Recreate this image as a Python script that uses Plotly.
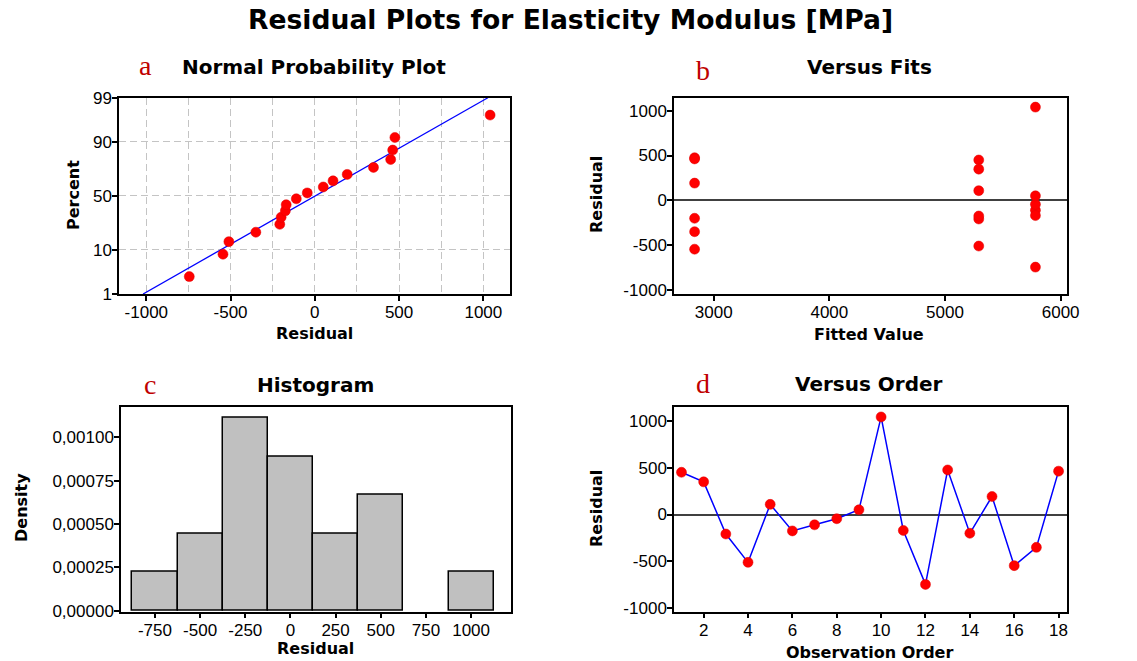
import numpy as np
import plotly.graph_objects as go
from statistics import NormalDist

# ---------------- data ----------------
observation_order = [1, 2, 3, 4, 5, 6, 7, 8, 9, 10, 11, 12, 13, 14, 15, 16, 17, 18]
residuals = [450, 348, -208, -510, 108, -175, -110, -45, 50, 1040,
             -170, -745, 475, -200, 192, -545, -350, 462]
fitted_values = [5292, 5292, 5292, 5292, 5292, 5292,
                 5782, 5782, 5782, 5782, 5782, 5782,
                 2835, 2835, 2835, 2835, 2835, 2835]

percent_ticks = [1, 10, 50, 90, 99]
npp_x_ticks = [-1000, -500, 0, 500, 1000]
fits_x_ticks = [3000, 4000, 5000, 6000]
res_y_ticks = [-1000, -500, 0, 500, 1000]
hist_x_ticks = [-750, -500, -250, 0, 250, 500, 750, 1000]
density_ticks = [0.0, 0.00025, 0.0005, 0.00075, 0.001]
density_labels = ["0,00000", "0,00025", "0,00050", "0,00075", "0,00100"]
order_ticks = [2, 4, 6, 8, 10, 12, 14, 16, 18]

# ---------------- derived ----------------
W, H = 1137, 661
nd = NormalDist()
res = np.array(residuals, dtype=float)
n = len(res)
sorted_res = np.sort(res)
probs = [(i - 0.5) / n for i in range(1, n + 1)]
zvals = [nd.inv_cdf(p) for p in probs]
mu = float(res.mean())
sd = float(res.std(ddof=1))
z_lo, z_hi = nd.inv_cdf(0.01), nd.inv_cdf(0.99)
line_z = [z_lo, z_hi]
line_x = [mu + sd * z for z in line_z]
pct_tickvals = [nd.inv_cdf(p / 100.0) for p in percent_ticks]


def lab(vals):
    return [str(v) for v in vals]  # plain hyphen minus, as in the reference


def px(x):
    return x / W


def py(y):
    return 1 - y / H


TICK_FONT = dict(family="Liberation Sans, Arial, sans-serif", size=17, color="black")
BOLD = "DejaVu Sans, Verdana, sans-serif"
RED = "#c00000"
MARK = dict(color="#ff0000", size=10, line=dict(color="#e00000", width=0.5))
GRID = dict(showgrid=True, gridcolor="#c4c4c4", griddash="7px,4px", gridwidth=1.3)

fig = go.Figure()

# (a) normal probability plot
fig.add_trace(go.Scatter(x=line_x, y=line_z, mode="lines",
                         line=dict(color="#0000ff", width=1.3),
                         xaxis="x", yaxis="y", showlegend=False, hoverinfo="skip"))
fig.add_trace(go.Scatter(x=sorted_res, y=zvals, mode="markers", marker=MARK,
                         xaxis="x", yaxis="y", showlegend=False))

# (b) versus fits
fig.add_trace(go.Scatter(x=fitted_values, y=residuals, mode="markers", marker=MARK,
                         xaxis="x2", yaxis="y2", showlegend=False))

# (c) histogram
fig.add_trace(go.Histogram(x=residuals, histnorm="probability density",
                           xbins=dict(start=-875, end=1125, size=250),
                           marker=dict(color="#c0c0c0", line=dict(color="black", width=1.5)),
                           xaxis="x3", yaxis="y3", showlegend=False))

# (d) versus order
fig.add_trace(go.Scatter(x=observation_order, y=residuals, mode="lines+markers",
                         line=dict(color="#0000ff", width=1.5), marker=MARK,
                         xaxis="x4", yaxis="y4", showlegend=False))

axis_common = dict(showline=True, linecolor="black", linewidth=1.5, mirror=True,
                   ticks="outside", ticklen=5, tickwidth=1.5, tickcolor="black",
                   tickfont=TICK_FONT, zeroline=False, showgrid=False, automargin=False,
                   ticklabelstandoff=-3)

dom_x_left = [px(119), px(510)]
dom_x_right = [px(674), px(1067)]
dom_y_top = [py(294), py(97.7)]
dom_y_bot = [py(611.7), py(406.7)]

fig.update_layout(
    width=W, height=H,
    margin=dict(l=0, r=0, t=0, b=0, pad=0),
    paper_bgcolor="white", plot_bgcolor="white",
    bargap=0,
    xaxis=dict(axis_common, domain=dom_x_left, anchor="y", range=[-1162, 1158],
               tickvals=npp_x_ticks, ticktext=lab(npp_x_ticks), **GRID,
               minor=dict(dtick=250, tick0=0, ticks="", **GRID)),
    yaxis=dict(axis_common, domain=dom_y_top, anchor="x", range=[z_lo, z_hi],
               tickvals=pct_tickvals, ticktext=lab(percent_ticks), **GRID),
    xaxis2=dict(axis_common, domain=dom_x_right, anchor="y2", range=[2657, 6055],
                tickvals=fits_x_ticks, ticktext=lab(fits_x_ticks)),
    yaxis2=dict(axis_common, domain=dom_y_top, anchor="x2", range=[-1045, 1145],
                tickvals=res_y_ticks, ticktext=lab(res_y_ticks),
                zeroline=True, zerolinecolor="#404040", zerolinewidth=1.5),
    xaxis3=dict(axis_common, domain=[px(121), px(511)], anchor="y3", range=[-938, 1221],
                tickvals=hist_x_ticks, ticktext=lab(hist_x_ticks)),
    yaxis3=dict(axis_common, domain=dom_y_bot, anchor="x3", range=[-0.000006, 0.001177],
                tickvals=density_ticks, ticktext=density_labels),
    xaxis4=dict(axis_common, domain=dom_x_right, anchor="y4", range=[0.663, 18.38],
                tickvals=order_ticks, ticktext=lab(order_ticks)),
    yaxis4=dict(axis_common, domain=dom_y_bot, anchor="x4", range=[-1036, 1149],
                tickvals=res_y_ticks, ticktext=lab(res_y_ticks),
                zeroline=True, zerolinecolor="#404040", zerolinewidth=1.5),
)


def ann(text, x, y, size, family=BOLD, color="black", bold=True, angle=0):
    fig.add_annotation(text=f"<b>{text}</b>" if bold else text,
                       x=px(x), y=py(y), xref="paper", yref="paper",
                       xanchor="center", yanchor="middle", showarrow=False,
                       textangle=angle, font=dict(family=family, size=size, color=color))


ann("Residual Plots for Elasticity Modulus [MPa]", 570, 20, 26.6)
ann("Normal Probability Plot", 314, 67, 20)
ann("Versus Fits", 869, 67, 20)
ann("Histogram", 315, 385, 20)
ann("Versus Order", 869, 384, 20)

SERIF = "Liberation Serif, Times New Roman, serif"
ann("a", 145, 66, 28, family=SERIF, color=RED, bold=False)
ann("b", 703, 70, 28, family=SERIF, color=RED, bold=False)
ann("c", 150, 384, 28, family=SERIF, color=RED, bold=False)
ann("d", 703, 383, 28, family=SERIF, color=RED, bold=False)

ann("Residual", 314, 333, 16)
ann("Fitted Value", 869, 334, 16)
ann("Residual", 315, 648, 16)
ann("Observation Order", 869, 652, 16)
ann("Percent", 73, 195, 16, angle=-90)
ann("Residual", 596, 195, 16, angle=-90)
ann("Density", 21, 508, 16, angle=-90)
ann("Residual", 596, 509, 16, angle=-90)

fig.write_html(
    "out.html",
    config={"displayModeBar": False},
    post_script="document.body.style.margin='0';document.body.style.padding='0';"
                "document.documentElement.style.overflow='hidden';",
)
